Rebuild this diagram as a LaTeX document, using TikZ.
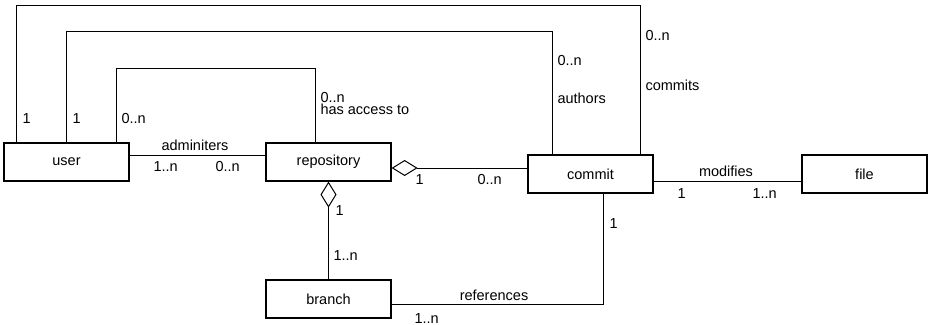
\documentclass[tikz,border=0pt]{standalone}
\usepackage{fontspec}
\setmainfont{Liberation Sans}
\usetikzlibrary{arrows.meta}
\begin{document}
\begin{tikzpicture}[x=1pt, y=-1pt, line width=1pt,
  font=\fontsize{14.5}{17}\selectfont,
  entity/.style={draw, line width=1.2pt, minimum width=125pt, minimum height=38pt, inner sep=0pt},
  lbl/.style={anchor=base west, inner sep=0pt},
  mid/.style={anchor=base, inner sep=0pt},
  agg/.style={{Diamond[open, length=26pt, width=16pt]}-}]
\useasboundingbox (0,0) rectangle (928,324);

% classes
\node[entity] (user)       at (66.5,162)  {user};
\node[entity] (repository) at (328.5,162) {repository};
\node[entity] (commit)     at (590.5,174) {commit};
\node[entity] (file)       at (864.5,174) {file};
\node[entity] (branch)     at (328.5,299) {branch};

% attachment points on the box edges
\coordinate (u1) at ([xshift=13pt]user.north west);
\coordinate (u2) at ([xshift=63pt]user.north west);
\coordinate (u3) at ([xshift=113pt]user.north west);
\coordinate (c1) at ([xshift=113pt]commit.north west);
\coordinate (c2) at ([xshift=25pt]commit.north west);
\coordinate (r1) at ([xshift=50pt]repository.north west);
\coordinate (c3) at ([xshift=12.5pt]commit.south);

% heights of the overhead routes
\coordinate (h1) at (0,5);
\coordinate (h2) at (0,31);
\coordinate (h3) at (0,68);

% associations
\draw (u1) -- (u1 |- h1) -| (c1);
\draw (u2) -- (u2 |- h2) -| (c2);
\draw (u3) -- (u3 |- h3) -| (r1);
\draw ([yshift=7pt]user.east) -- ([yshift=7pt]repository.west);
\draw[agg] ([yshift=-6pt]repository.east) -- ([yshift=6pt]commit.west);
\draw ([yshift=-7pt]commit.east) -- ([yshift=-7pt]file.west);
\draw[agg] (repository.south) -- (branch.north);
\draw ([yshift=-5pt]branch.east) -| (c3);

% multiplicities and roles
\node[lbl] (m1) at (22,123)  {1};
\node[lbl] (m2) at (72,123)  {1};
\node[lbl] (m3) at (121,123) {0..n};
\node[lbl] (m4) at (320,102) {0..n};
\node[lbl] (t1) at (320,114.5) {has access to};
\node[mid] (t2) at (195,150) {adminiters};
\node[lbl] (m5) at (153,171.5) {1..n};
\node[lbl] (m6) at (215,171.5) {0..n};
\node[lbl] (m7) at (415,184) {1};
\node[lbl] (m8) at (477,184) {0..n};
\node[lbl] (m9) at (557,65.5) {0..n};
\node[lbl] (t3) at (557,103) {authors};
\node[lbl] (m10) at (645,40) {0..n};
\node[lbl] (t4) at (645,90.5) {commits};
\node[mid] (t5) at (726,176) {modifies};
\node[lbl] (m11) at (677,198) {1};
\node[lbl] (m12) at (752,198) {1..n};
\node[lbl] (m13) at (335,215) {1};
\node[lbl] (m14) at (333,260.5) {1..n};
\node[mid] (t6) at (494,300) {references};
\node[lbl] (m15) at (609,228) {1};
\node[lbl] (m16) at (414,323) {1..n};
\end{tikzpicture}
\end{document}
